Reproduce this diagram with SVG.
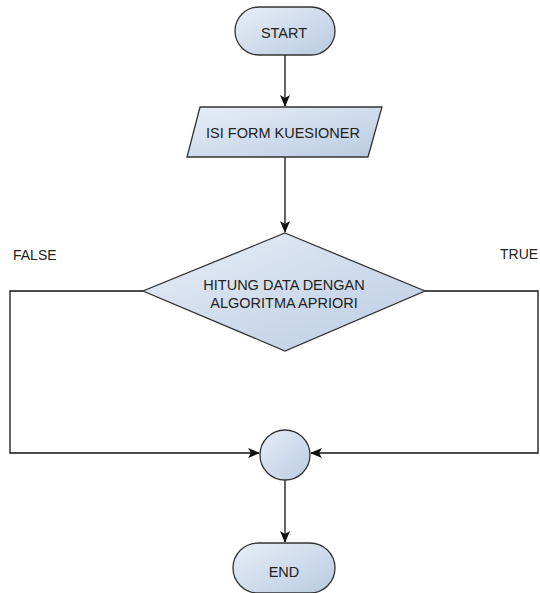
<svg xmlns="http://www.w3.org/2000/svg" width="540" height="593" viewBox="0 0 540 593">
<defs>
<linearGradient id="g" x1="0" y1="0" x2="1" y2="1">
<stop offset="0" stop-color="#e8eef7"/>
<stop offset="1" stop-color="#b9cbe2"/>
</linearGradient>
<marker id="arr" markerWidth="12" markerHeight="10" refX="11" refY="5" orient="auto" markerUnits="userSpaceOnUse">
<path d="M0,0 L12,5 L0,10 L3,5 Z" fill="#111"/>
</marker>
<style>
.shape{fill:url(#g);stroke:#333;stroke-width:1.3}
.lbl{font-family:"Liberation Sans",Arial,sans-serif;font-size:14.5px;fill:#222;text-anchor:middle}
.plain{font-family:"Liberation Sans",Arial,sans-serif;font-size:14px;fill:#222}
.conn{fill:none;stroke:#111;stroke-width:1.3}
</style>
</defs>
<rect width="540" height="593" fill="#fff"/>
<g id="connectors">
<path class="conn" d="M285,55 L285,106" marker-end="url(#arr)"/>
<path class="conn" d="M285,157 L285,232" marker-end="url(#arr)"/>
<path class="conn" d="M143,291 L10,291 L10,453 L259,453" marker-end="url(#arr)"/>
<path class="conn" d="M425,291 L538,291 L538,453 L311,453" marker-end="url(#arr)"/>
<path class="conn" d="M285,478 L285,542" marker-end="url(#arr)"/>
</g>
<g id="start">
<rect class="shape" x="235" y="7" width="100" height="48" rx="24" ry="24"/>
<text class="lbl" x="284" y="38">START</text>
</g>
<g id="form">
<polygon class="shape" points="200,107 382,107 368,157 187,157"/>
<text class="lbl" x="283" y="138">ISI FORM KUESIONER</text>
</g>
<g id="decision">
<polygon class="shape" points="285,233 425,291 285,351 143,291"/>
<text class="lbl" x="284" y="290">HITUNG DATA DENGAN</text>
<text class="lbl" x="284" y="308">ALGORITMA APRIORI</text>
</g>
<g id="label-false"><text class="plain" x="13" y="260">FALSE</text></g>
<g id="label-true"><text class="plain" x="500" y="259">TRUE</text></g>
<g id="merge">
<circle class="shape" cx="285" cy="455" r="25"/>
</g>
<g id="end">
<rect class="shape" x="233" y="543" width="102" height="50" rx="25" ry="25"/>
<text class="lbl" x="284" y="577">END</text>
</g>
</svg>
